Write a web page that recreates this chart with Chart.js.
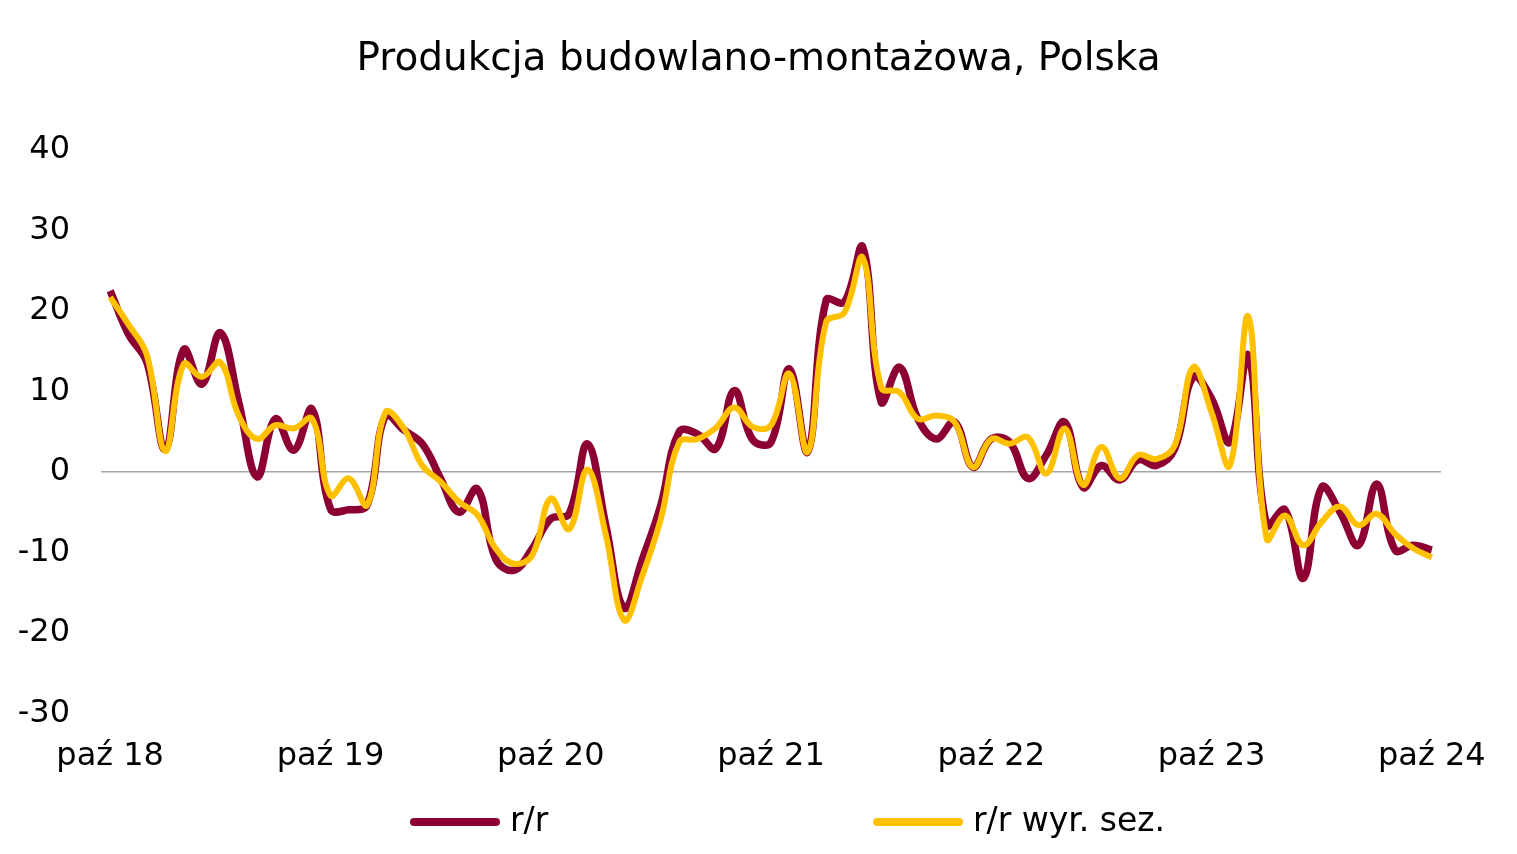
<!DOCTYPE html>
<html>
<head>
<meta charset="utf-8">
<script src="https://cdn.jsdelivr.net/npm/chart.js@4/dist/chart.umd.min.js"></script>
<style>
  body { margin: 0; background: #fff; }
</style>
</head>
<body>
<canvas id="chart" width="1517" height="854"></canvas>
<script>
// miesiące od paź 2018 do paź 2024
const monthNames = ['sty', 'lut', 'mar', 'kwi', 'maj', 'cze', 'lip', 'sie', 'wrz', 'paź', 'lis', 'gru'];
const startYear = 2018;
const startMonth = 9; // paź

const rr = [
  22.5, 17.1, 13.6, 2.8, 15.2, 10.9, 17.3, 8.7, -0.6, 6.6, 2.7, 7.8,
  -4.6, -4.7, -4.1, 7.0, 5.2, 3.5, -0.8, -5.0, -2.1, -10.8, -12.2, -9.5,
  -5.8, -5.2, 3.5, -6.6, -16.9, -10.8, -4.1, 5.0, 4.7, 2.9, 10.1, 4.0,
  3.7, 12.8, 2.5, 21.3, 21.1, 27.9, 8.7, 13.0, 6.6, 4.1, 6.2, 0.6,
  4.1, 3.7, -0.8, 2.1, 6.2, -1.9, 0.8, -1.0, 1.5, 0.8, 2.9, 11.8,
  9.1, 3.7, 14.5, -6.6, -4.7, -13.2, -1.9, -5.0, -9.1, -1.5, -9.7, -9.1,
  -9.7
];

const rrSa = [
  21.7, 18.3, 14.5, 2.6, 13.4, 11.8, 13.6, 7.0, 4.1, 5.8, 5.4, 6.6,
  -2.9, -0.8, -4.1, 7.4, 5.4, 0.8, -1.2, -3.7, -5.3, -9.5, -11.4, -10.3,
  -3.3, -7.1, 0.3, -7.8, -18.4, -12.8, -5.8, 3.7, 4.1, 5.5, 8.0, 5.6,
  5.8, 12.2, 2.5, 18.6, 19.8, 26.6, 10.5, 9.9, 6.6, 7.0, 6.2, 0.6,
  4.1, 3.5, 4.3, -0.2, 5.4, -1.6, 3.1, -0.8, 2.1, 1.6, 3.3, 13.0,
  7.4, 0.8, 19.3, -8.3, -5.4, -9.1, -6.2, -4.3, -6.6, -5.2, -7.7, -9.5,
  -10.6
];

const labels = rr.map((v, i) => {
  const m = (startMonth + i) % 12;
  const y = startYear + Math.floor((startMonth + i) / 12);
  return monthNames[m] + ' ' + String(y).slice(2);
});

const font = 'DejaVu Sans';

// legenda jak w Excelu - dwa elementy daleko od siebie
const wideLegend = {
  id: 'wideLegend',
  afterDraw(chart) {
    const ctx = chart.ctx;
    const y = 822;
    const xs = [410, 873];
    chart.data.datasets.forEach((ds, i) => {
      ctx.save();
      ctx.strokeStyle = ds.borderColor;
      ctx.lineWidth = 8;
      ctx.lineCap = 'round';
      ctx.beginPath();
      ctx.moveTo(xs[i] + 4, y);
      ctx.lineTo(xs[i] + 86, y);
      ctx.stroke();
      ctx.fillStyle = '#000';
      ctx.font = '33px "' + font + '"';
      ctx.textBaseline = 'middle';
      ctx.fillText(ds.label, xs[i] + 100, y);
      ctx.restore();
    });
  }
};

new Chart(document.getElementById('chart'), {
  type: 'line',
  data: {
    labels: labels,
    datasets: [{
      label: 'r/r',
      data: rr,
      borderColor: '#8C0033',
      backgroundColor: '#8C0033',
      borderWidth: 7.5,
      pointRadius: 0,
      tension: 0.4,
      order: 1
    }, {
      label: 'r/r wyr. sez.',
      data: rrSa,
      borderColor: '#FFC000',
      backgroundColor: '#FFC000',
      borderWidth: 6,
      pointRadius: 0,
      tension: 0.4,
      order: 0
    }]
  },
  options: {
    responsive: false,
    animation: false,
    layout: {
      padding: { top: 0, left: 0, right: 0, bottom: 54 }
    },
    scales: {
      x: {
        offset: true,
        grid: { display: false, drawTicks: false },
        border: { display: false },
        afterFit: function (scale) {
          scale.paddingLeft = 0;
          scale.paddingRight = 76;
        },
        ticks: {
          autoSkip: false,
          maxRotation: 0,
          padding: 24,
          color: '#000',
          font: { family: font, size: 32 },
          callback: function (value, index) {
            return index % 12 === 0 ? labels[index] : null;
          }
        }
      },
      y: {
        min: -30,
        max: 40,
        afterFit: function (scale) {
          scale.width = 101;
        },
        grid: {
          drawTicks: false,
          lineWidth: 1.5,
          color: ctx => ctx.tick && ctx.tick.value === 0 ? '#a6a6a6' : 'transparent'
        },
        border: { display: false },
        ticks: {
          stepSize: 10,
          padding: 31,
          color: '#000',
          font: { family: font, size: 32 }
        }
      }
    },
    plugins: {
      title: {
        display: true,
        text: 'Produkcja budowlano-montażowa, Polska',
        color: '#000',
        font: { family: font, size: 39, weight: 'normal', lineHeight: 1.2 },
        padding: { top: 36, bottom: 67 }
      },
      legend: { display: false },
      tooltip: { enabled: false }
    }
  },
  plugins: [wideLegend]
});
</script>
</body>
</html>
